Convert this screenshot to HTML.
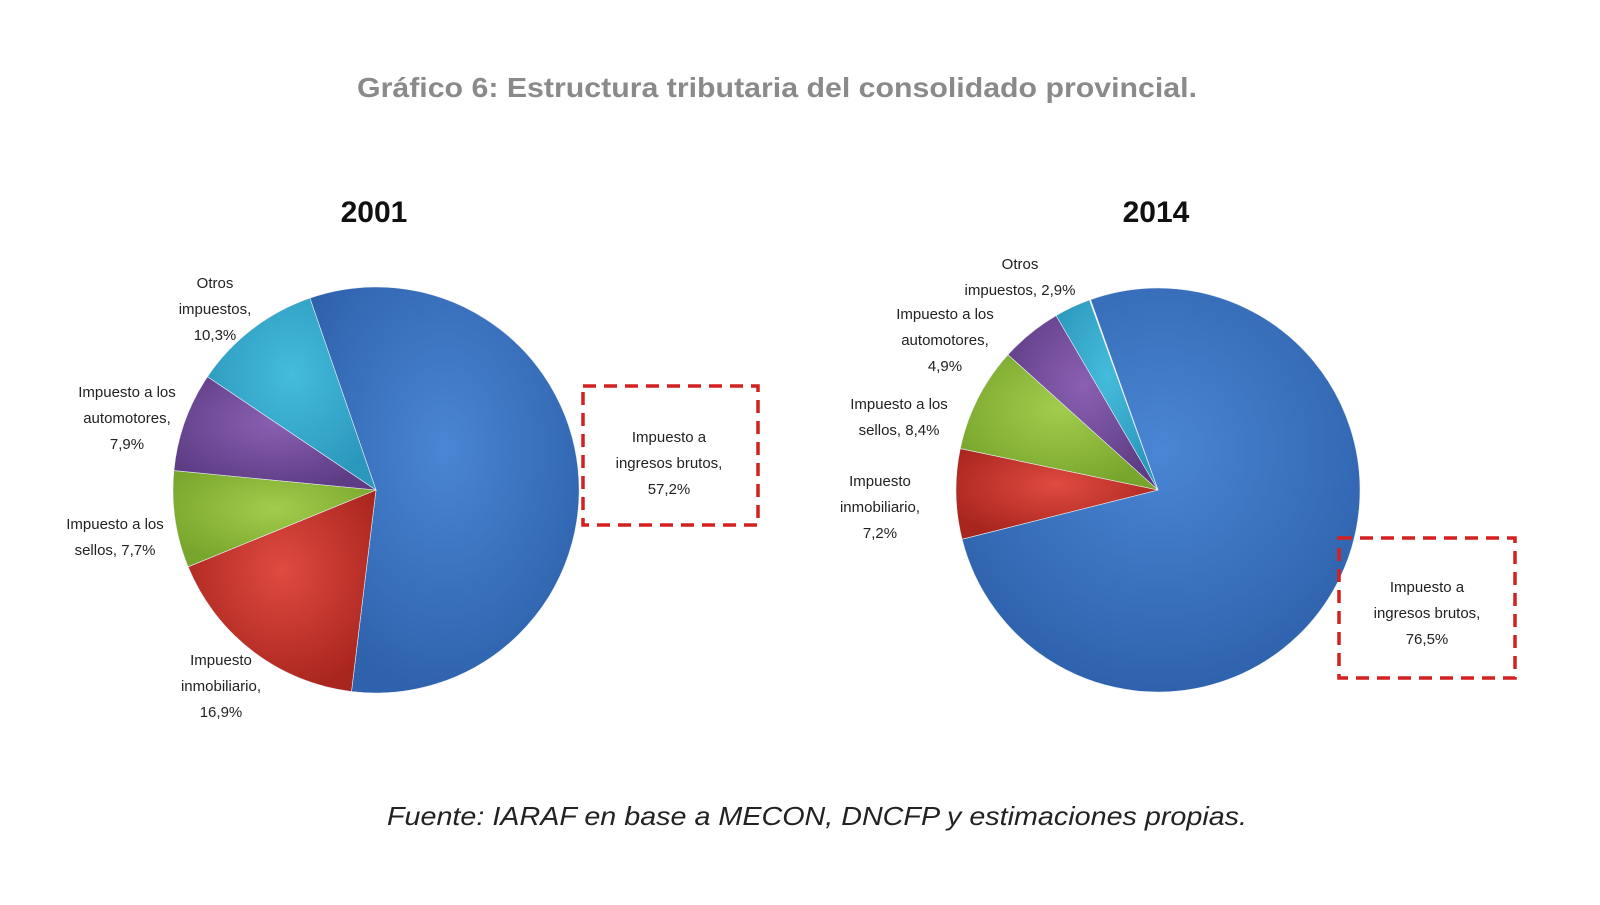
<!DOCTYPE html>
<html><head><meta charset="utf-8"><style>
body{margin:0;background:#fff;width:1600px;height:900px;overflow:hidden;font-family:"Liberation Sans",sans-serif}
</style></head><body>
<svg id="s" width="1600" height="900" xmlns="http://www.w3.org/2000/svg" font-family="Liberation Sans, sans-serif">
<defs>
<radialGradient id="gb" cx="50%" cy="40%" r="60%"><stop offset="0" stop-color="#4a86d4"/><stop offset="1" stop-color="#2f62ad"/></radialGradient>
<radialGradient id="gr" cx="50%" cy="40%" r="60%"><stop offset="0" stop-color="#e04a40"/><stop offset="1" stop-color="#a9261f"/></radialGradient>
<radialGradient id="gg" cx="50%" cy="40%" r="60%"><stop offset="0" stop-color="#a2cc4c"/><stop offset="1" stop-color="#78a52c"/></radialGradient>
<radialGradient id="gp" cx="50%" cy="40%" r="60%"><stop offset="0" stop-color="#8a60b2"/><stop offset="1" stop-color="#5f3d86"/></radialGradient>
<radialGradient id="gc" cx="50%" cy="40%" r="60%"><stop offset="0" stop-color="#45bcdc"/><stop offset="1" stop-color="#2b97bc"/></radialGradient>
</defs>
<g id="pies"></g>
<text x="357" y="97" textLength="840" lengthAdjust="spacingAndGlyphs" font-size="28" font-weight="bold" fill="#8a8a8a">Gráfico 6: Estructura tributaria del consolidado provincial.</text>
<text x="374" y="222" text-anchor="middle" font-size="30" font-weight="bold" fill="#111">2001</text>
<text x="1156" y="222" text-anchor="middle" font-size="30" font-weight="bold" fill="#111">2014</text>
<g font-size="15" fill="#222" text-anchor="middle">
<text x="215" y="288">Otros</text><text x="215" y="314">impuestos,</text><text x="215" y="340">10,3%</text>
<text x="127" y="397">Impuesto a los</text><text x="127" y="423">automotores,</text><text x="127" y="449">7,9%</text>
<text x="115" y="529">Impuesto a los</text><text x="115" y="555">sellos, 7,7%</text>
<text x="221" y="665">Impuesto</text><text x="221" y="691">inmobiliario,</text><text x="221" y="717">16,9%</text>
<text x="669" y="442">Impuesto a</text><text x="669" y="468">ingresos brutos,</text><text x="669" y="494">57,2%</text>
<text x="1020" y="269">Otros</text><text x="1020" y="295">impuestos, 2,9%</text>
<text x="945" y="319">Impuesto a los</text><text x="945" y="345">automotores,</text><text x="945" y="371">4,9%</text>
<text x="899" y="409">Impuesto a los</text><text x="899" y="435">sellos, 8,4%</text>
<text x="880" y="486">Impuesto</text><text x="880" y="512">inmobiliario,</text><text x="880" y="538">7,2%</text>
<text x="1427" y="592">Impuesto a</text><text x="1427" y="618">ingresos brutos,</text><text x="1427" y="644">76,5%</text>
</g>
<rect x="583" y="386" width="175" height="139" fill="none" stroke="#d42020" stroke-width="3.5" stroke-dasharray="13,8"/>
<rect x="1339" y="538" width="176" height="140" fill="none" stroke="#d42020" stroke-width="3.5" stroke-dasharray="13,8"/>
<text x="387" y="825" textLength="860" lengthAdjust="spacingAndGlyphs" font-size="26" font-style="italic" fill="#222">Fuente: IARAF en base a MECON, DNCFP y estimaciones propias.</text>
</svg>
<script>
function pie(cx,cy,r,start,vals){
  var g=document.getElementById('pies'),a=start,fills=['url(#gb)','url(#gr)','url(#gg)','url(#gp)','url(#gc)'];
  vals.forEach(function(v,i){
    var b=a+v*3.6;
    function pt(t){var rad=t*Math.PI/180;return (cx+r*Math.sin(rad)).toFixed(1)+','+(cy-r*Math.cos(rad)).toFixed(1);}
    var p=document.createElementNS('http://www.w3.org/2000/svg','path');
    p.setAttribute('d','M'+cx+','+cy+' L'+pt(a)+' A'+r+','+r+' 0 '+(b-a>180?1:0)+' 1 '+pt(b)+' Z');
    p.setAttribute('fill',fills[i]);p.setAttribute('stroke','#e8eef5');p.setAttribute('stroke-width','0.6');
    g.appendChild(p);a=b;
  });
}
pie(376,490,203,-19,[57.2,16.9,7.7,7.9,10.3]);
pie(1158,490,202,-19.5,[76.5,7.2,8.4,4.9,2.9]);
</script>
</body></html>
